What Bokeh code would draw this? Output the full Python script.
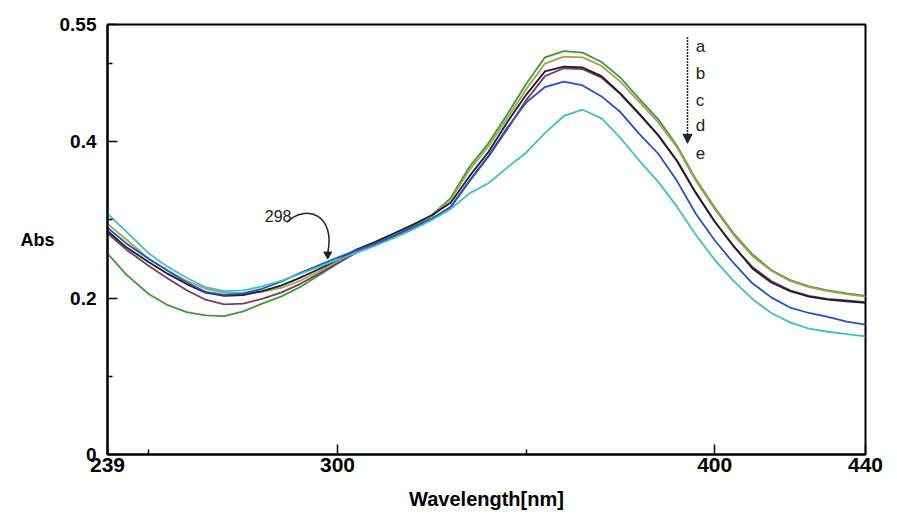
from bokeh.plotting import figure
from bokeh.models import Range1d, FixedTicker, Label, Arrow, NormalHead
from bokeh.embed import file_html
from bokeh.resources import INLINE

# ---------------- data ----------------
wavelength = [239, 244, 250, 255, 260, 265, 270, 275, 280, 285, 290, 295, 300,
              305, 310, 315, 320, 325, 330, 335, 340, 345, 350, 355, 360, 365,
              370, 375, 380, 385, 390, 395, 400, 405, 410, 415, 420, 425, 430,
              435, 440]

abs_a_green = [0.257, 0.230, 0.205, 0.191, 0.182, 0.178, 0.177, 0.183, 0.193, 0.202,
               0.214, 0.229, 0.244, 0.259, 0.270, 0.281, 0.293, 0.306, 0.328, 0.368,
               0.398, 0.435, 0.474, 0.508, 0.516, 0.514, 0.502, 0.482, 0.455, 0.429,
               0.395, 0.352, 0.316, 0.283, 0.256, 0.236, 0.223, 0.215, 0.210, 0.206,
               0.203]
abs_b_olive = [0.295, 0.275, 0.250, 0.235, 0.222, 0.212, 0.207, 0.206, 0.208, 0.213,
               0.222, 0.234, 0.248, 0.259, 0.270, 0.281, 0.292, 0.305, 0.326, 0.364,
               0.394, 0.430, 0.467, 0.500, 0.509, 0.508, 0.497, 0.477, 0.451, 0.425,
               0.393, 0.350, 0.314, 0.281, 0.254, 0.235, 0.222, 0.214, 0.209, 0.205,
               0.202]
abs_c_black = [0.286, 0.265, 0.246, 0.231, 0.218, 0.207, 0.203, 0.204, 0.209, 0.216,
               0.226, 0.237, 0.249, 0.262, 0.272, 0.283, 0.294, 0.306, 0.322, 0.356,
               0.387, 0.425, 0.460, 0.490, 0.496, 0.495, 0.484, 0.462, 0.436, 0.409,
               0.376, 0.335, 0.298, 0.267, 0.238, 0.220, 0.209, 0.202, 0.198, 0.196,
               0.194]
abs_c_purple = [0.283, 0.262, 0.241, 0.225, 0.210, 0.198, 0.192, 0.193, 0.199, 0.207,
                0.218, 0.231, 0.245, 0.258, 0.268, 0.278, 0.289, 0.301, 0.317, 0.350,
                0.381, 0.416, 0.453, 0.484, 0.494, 0.493, 0.482, 0.461, 0.435, 0.408,
                0.375, 0.334, 0.298, 0.266, 0.240, 0.222, 0.210, 0.203, 0.199, 0.197,
                0.195]
abs_d_blue = [0.290, 0.270, 0.250, 0.235, 0.220, 0.208, 0.204, 0.206, 0.212, 0.221,
              0.232, 0.242, 0.252, 0.261, 0.270, 0.280, 0.291, 0.302, 0.316, 0.350,
              0.382, 0.418, 0.450, 0.470, 0.477, 0.472, 0.458, 0.438, 0.410, 0.385,
              0.350, 0.308, 0.274, 0.245, 0.219, 0.201, 0.188, 0.181, 0.176, 0.170,
              0.166]
abs_e_cyan = [0.308, 0.285, 0.257, 0.240, 0.226, 0.214, 0.209, 0.210, 0.215, 0.222,
              0.231, 0.240, 0.249, 0.258, 0.267, 0.277, 0.288, 0.300, 0.314, 0.334,
              0.347, 0.367, 0.386, 0.411, 0.433, 0.441, 0.430, 0.405, 0.376, 0.349,
              0.317, 0.281, 0.249, 0.222, 0.199, 0.181, 0.169, 0.161, 0.157, 0.154,
              0.151]

series = [
    (abs_a_green, "#3c9a3c"),
    (abs_b_olive, "#a2a44e"),
    (abs_c_purple, "#7a3a62"),
    (abs_c_black, "#1e1e24"),
    (abs_d_blue, "#2452c4"),
    (abs_e_cyan, "#3ec0c8"),
]

x_ticks = [239, 300, 400, 440]
x_minor = [250, 350]
y_ticks = [0, 0.2, 0.4, 0.55]
y_minor = [0.1, 0.3, 0.5]
y_tick_labels = {0: "0", 0.2: "0.2", 0.4: "0.4", 0.55: "0.55"}

curve_labels = ["a", "b", "c", "d", "e"]
isosbestic = "298"

TICK_FONT = "Liberation Sans"
TEXT_FONT = "Liberation Sans"

# ---------------- figure ----------------
p = figure(width=885, height=512,
           x_range=Range1d(239, 440), y_range=Range1d(0, 0.55),
           output_backend="svg", toolbar_location=None,
           min_border_left=107, min_border_top=24,
           min_border_right=20, min_border_bottom=57)

p.background_fill_color = "white"
p.border_fill_color = "white"
p.outline_line_color = "black"
p.outline_line_width = 2
p.xgrid.visible = False
p.ygrid.visible = False

for vals, col in series:
    p.line(wavelength, vals, line_color=col, line_width=1.8)

# axes
for ax in (p.xaxis[0], p.yaxis[0]):
    ax.axis_line_color = "black"
    ax.axis_line_width = 2
    ax.major_tick_in = 10
    ax.major_tick_out = 0
    ax.minor_tick_in = 5
    ax.minor_tick_out = 0
    ax.major_tick_line_width = 1.5
    ax.minor_tick_line_width = 1.5
    ax.major_label_text_font = TICK_FONT
    ax.major_label_text_font_style = "bold"
    ax.major_label_text_color = "black"
    ax.axis_label_text_font = TICK_FONT
    ax.axis_label_text_font_style = "bold"
    ax.axis_label_text_color = "black"

p.xaxis.ticker = FixedTicker(ticks=x_ticks, minor_ticks=x_minor)
p.yaxis.ticker = FixedTicker(ticks=y_ticks, minor_ticks=y_minor)
p.yaxis.major_label_overrides = y_tick_labels
p.xaxis.major_label_text_font_size = "21px"
p.yaxis.major_label_text_font_size = "19px"
p.xaxis.major_label_standoff = 3
p.yaxis.major_label_standoff = 11

p.xaxis.axis_label = "Wavelength[nm]"
p.xaxis.axis_label_text_font_size = "20px"
p.xaxis.axis_label_standoff = 13

p.yaxis.axis_label = "Abs"
p.yaxis.axis_label_orientation = "horizontal"
p.yaxis.axis_label_text_font_size = "18px"
p.yaxis.axis_label_standoff = 2

# ---------------- annotations ----------------
# order arrow a -> e
p.add_layout(Arrow(x_start=392.8, y_start=0.534, x_end=392.8, y_end=0.398,
                   line_color="#222222", line_width=1.5, line_dash="2 1",
                   end=NormalHead(size=9, fill_color="#222222",
                                  line_color="#222222")))
label_y = [0.522, 0.487, 0.453, 0.421, 0.386]
for t, yy in zip(curve_labels, label_y):
    p.add_layout(Label(x=395.0, y=yy, text=t, text_font=TEXT_FONT,
                       text_font_size="17px", text_color="#222222",
                       text_baseline="middle"))

# isosbestic point 298
p.add_layout(Label(x=280.7, y=0.305, text=isosbestic, text_font=TEXT_FONT,
                   text_font_size="16px", text_color="#222222",
                   text_baseline="alphabetic"))
p.bezier(x0=[286.5], y0=[0.297], x1=[297.4], y1=[0.258],
         cx0=[292.0], cy0=[0.322], cx1=[299.5], cy1=[0.305],
         line_color="#222222", line_width=1.5)
p.scatter([297.4], [0.256], marker="inverted_triangle", size=8,
          fill_color="#222222", line_color="#222222")

open("out.html", "w").write(file_html(p, INLINE))
